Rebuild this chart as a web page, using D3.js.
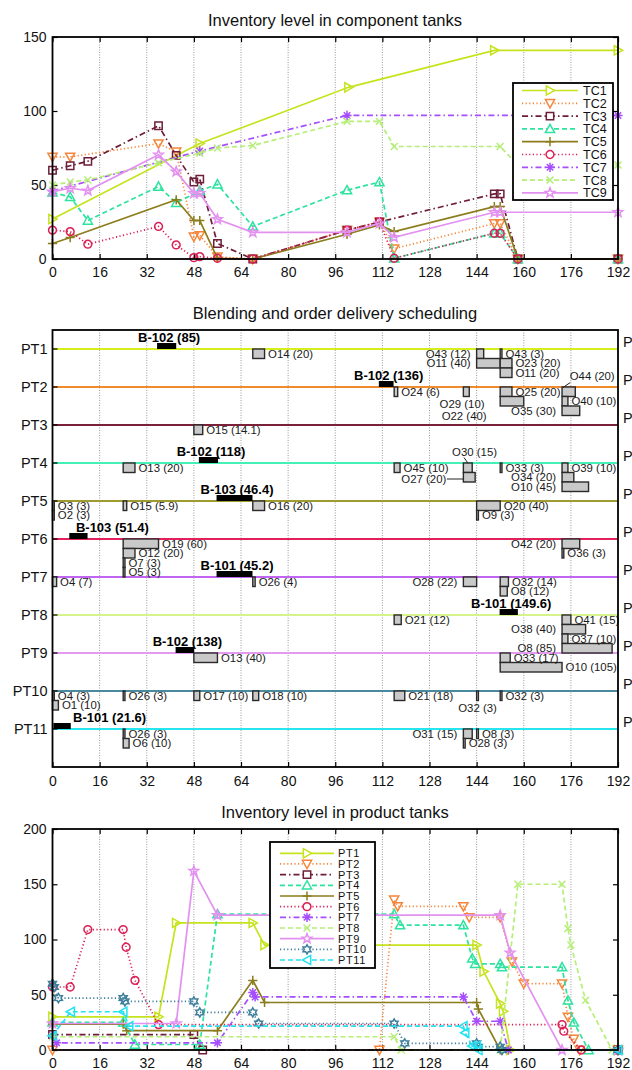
<!DOCTYPE html>
<html>
<head>
<meta charset="utf-8">
<script src="https://cdn.jsdelivr.net/npm/d3@7"></script>
<style>
  body { margin: 0; background: #fff; }
  svg { display: block; font-family: "Liberation Sans", Arial, sans-serif; }
</style>
</head>
<body>
<svg id="fig" width="632" height="1070"></svg>
<script>
// ---- data ----
const hourTicks = [0, 16, 32, 48, 64, 80, 96, 112, 128, 144, 160, 176, 192];
const tcTicks = [0, 50, 100, 150];
const ptTicks = [0, 50, 100, 150, 200];
const components = ["TC1", "TC2", "TC3", "TC4", "TC5", "TC6", "TC7", "TC8", "TC9"];
const products = ["PT1", "PT2", "PT3", "PT4", "PT5", "PT6", "PT7", "PT8", "PT9", "PT10", "PT11"];

// component tank levels [hour, level]
const TC1 = [[0,27],[50,78],[100.5,116],[150,141],[192,141]];
const TC2 = [[0,69],[6,69],[36,78],[42,72.5],[48,15],[50,16],[56,1.5],[68,0],[100,19.5],[111,25],[116,7],[150,24],[152,24],[158,0],[192,0]];
const TC3 = [[0,60],[6,63],[12,66],[36,90],[42,70],[48,52],[50,54],[56,10.5],[68,0],[100,19.5],[111,25],[150,44],[152,44],[158,0],[192,0]];
const TC4 = [[0,45],[6,42],[12,26],[36,49],[42,38],[50,46],[56,50.5],[68,22],[100,46.5],[111,52],[116,0.5],[150,17.4],[152,17.4],[158,0],[192,0]];
const TC5 = [[0,10.5],[6,14.5],[42,40],[48,26],[50,26],[56,0.5],[68,0],[100,16.7],[111,23],[116,18.5],[150,35.4],[152,35.4],[158,0],[192,0]];
const TC6 = [[0,19.5],[6,18.5],[12,10],[36,22],[42,9.5],[48,0.9],[50,1.6],[56,0.5],[68,0],[100,19.5],[111,25],[116,0.5],[150,17.4],[152,17.4],[158,0],[192,0]];
const TC7 = [[0,46],[50,73],[100,97],[192,97]];
const TC8 = [[0,50],[6,52],[12,53.4],[36,65],[50,71.5],[56,75],[68,76.7],[100,93],[111,93],[116,76],[152,76],[158,63.5],[192,63.5]];
const TC9 = [[0,45.5],[6,47.8],[12,46.2],[36,70.4],[42,59],[48,44.4],[50,44.4],[56,26.8],[68,18],[100,18],[111,24],[116,14.7],[150,31.6],[152,31.6],[192,31.6]];

// product tank levels [hour, level]
const PT1 = [[0,30],[36,30],[42,115],[68,115],[72,95],[144,95],[146.4,71],[152,42],[153,35],[155.5,0],[192,0]];
const PT2 = [[0,0],[111,0],[116,136],[117.2,130],[139.5,130],[141.5,120],[152,120],[156,80],[160,60],[173,60],[175,30],[177,10],[179,0],[192,0]];
const PT3 = [[0,14],[48,14],[51,0],[192,0]];
const PT4 = [[0,25],[24,25],[28,5],[50,5],[56,123],[116,123],[118,113],[139.5,113],[142.5,83],[143.5,78],[152,78],[152.6,75],[173,75],[175,45],[177,25],[182,0],[192,0]];
const PT5 = [[0,23.5],[24,23.5],[25.2,17.5],[56,17.5],[68,63],[72,43],[144,43],[144.6,37],[152,0],[192,0]];
const PT6 = [[0,57],[6,57],[12,109],[24,109],[25,93],[28,63],[36,23],[173,23],[173.6,17],[179.5,0],[192,0]];
const PT7 = [[0,13],[1.4,6.5],[56,6.5],[68,52],[68.8,48],[139.5,48],[144,26],[152,26],[154.8,0],[192,0]];
const PT8 = [[0,12],[116,12],[118.4,0],[152,0],[158,150],[173,150],[175,110],[176,95],[181,45],[190,0],[192,0]];
const PT9 = [[0,24],[42,24],[48,162],[56,122],[152,122],[155.4,88],[173,0],[192,0]];
const PT10 = [[0,60],[0.6,57],[2,47],[24,47],[24.6,44],[48,44],[50,34],[68,34],[70,24],[116,24],[119.6,6],[144,6],[144.6,3],[152,3],[152.6,0],[192,0]];
const PT11 = [[0,13],[6.2,34.6],[24,34.6],[26,21.6],[139.5,21.6],[140.1,15.6],[142.5,3.6],[144,3.6],[144.6,0],[192,0]];

// blending batches [product row, start, end, label]
const batches = [
  [1, 35.5, 42, "B-102 (85)"],
  [2, 110.8, 115.8, "B-102 (136)"],
  [4, 49.7, 56.2, "B-102 (118)"],
  [5, 55.7, 67.9, "B-103 (46.4)"],
  [6, 5.7, 11.9, "B-103 (51.4)"],
  [7, 55.7, 67.9, "B-101 (45.2)"],
  [8, 151.8, 158, "B-101 (149.6)"],
  [9, 41.8, 48.1, "B-102 (138)"],
  [11, 0.3, 6.2, "B-101 (21.6)"]
];

// order deliveries [product row, start, end, stack level, label]
const orders = [
  [1, 68, 72, 0, "O14 (20)"],
  [1, 144, 146.4, 0, "O43 (12)"],
  [1, 144, 152, 1, "O11 (40)"],
  [1, 152, 152.6, 0, "O43 (3)"],
  [1, 152, 156, 1, "O23 (20)"],
  [1, 152, 156, 2, "O11 (20)"],
  [2, 116, 117.2, 0, "O24 (6)"],
  [2, 139.5, 141.5, 0, "O29 (10)"],
  [2, 152, 156, 0, "O25 (20)"],
  [2, 152, 160, 1, "O22 (40)"],
  [2, 173, 177.5, 0, "O44 (20)"],
  [2, 173, 175, 1, "O40 (10)"],
  [2, 173, 179, 2, "O35 (30)"],
  [3, 48, 51, 0, "O15 (14.1)"],
  [4, 24, 28, 0, "O13 (20)"],
  [4, 116, 118, 0, "O45 (10)"],
  [4, 139.5, 142.5, 0, "O30 (15)"],
  [4, 139.5, 143.5, 1, "O27 (20)"],
  [4, 152, 152.6, 0, "O33 (3)"],
  [4, 173, 175, 0, "O39 (10)"],
  [4, 173, 177, 1, "O34 (20)"],
  [4, 173, 182, 2, "O10 (45)"],
  [5, 0, 0.6, 0, "O3 (3)"],
  [5, 0, 0.6, 1, "O2 (3)"],
  [5, 24, 25.2, 0, "O15 (5.9)"],
  [5, 68, 72, 0, "O16 (20)"],
  [5, 144, 152, 0, "O20 (40)"],
  [5, 144, 144.6, 1, "O9 (3)"],
  [6, 24, 36, 0, "O19 (60)"],
  [6, 24, 28, 1, "O12 (20)"],
  [6, 24, 24.6, 2, "O7 (3)"],
  [6, 24, 24.6, 3, "O5 (3)"],
  [6, 173, 179, 0, "O42 (20)"],
  [6, 173, 173.6, 1, "O36 (3)"],
  [7, 0, 1.4, 0, "O4 (7)"],
  [7, 68, 68.8, 0, "O26 (4)"],
  [7, 139.5, 144, 0, "O28 (22)"],
  [7, 152, 154.8, 0, "O32 (14)"],
  [7, 152, 154.4, 1, "O8 (12)"],
  [8, 116, 118.4, 0, "O21 (12)"],
  [8, 173, 176, 0, "O41 (15)"],
  [8, 173, 181, 1, "O38 (40)"],
  [8, 173, 175, 2, "O37 (10)"],
  [8, 173, 190, 3, "O8 (85)"],
  [9, 48, 56, 0, "O13 (40)"],
  [9, 152, 155.4, 0, "O33 (17)"],
  [9, 152, 173, 1, "O10 (105)"],
  [10, 0, 0.6, 0, "O4 (3)"],
  [10, 0, 2, 1, "O1 (10)"],
  [10, 24, 24.6, 0, "O26 (3)"],
  [10, 48, 50, 0, "O17 (10)"],
  [10, 68, 70, 0, "O18 (10)"],
  [10, 116, 119.6, 0, "O21 (18)"],
  [10, 144, 144.6, 0, "O32 (3)"],
  [10, 152, 152.6, 0, "O32 (3)"],
  [11, 24, 24.6, 0, "O26 (3)"],
  [11, 24, 26, 1, "O6 (10)"],
  [11, 139.5, 142.5, 0, "O31 (15)"],
  [11, 139.5, 140.1, 1, "O28 (3)"],
  [11, 144, 144.6, 0, "O8 (3)"]
];

// ---- styles / label placement ----
const seriesStyle = [
  { color: "#c6e31e", dash: null, marker: "triR" },
  { color: "#f5863a", dash: "1.2,2.4", marker: "triD" },
  { color: "#6e1e38", dash: "6,3,1.5,3", marker: "square" },
  { color: "#2ee3a0", dash: "5,3", marker: "triU" },
  { color: "#8c7d1c", dash: null, marker: "plus" },
  { color: "#dc1f55", dash: "1.2,2.4", marker: "circle" },
  { color: "#a64dff", dash: "6,3,1.5,3", marker: "aster" },
  { color: "#b6ee78", dash: "5,3", marker: "cross" },
  { color: "#e391f0", dash: null, marker: "penta" },
  { color: "#3e7f9c", dash: "1.2,2.4", marker: "hexa" },
  { color: "#22e3f0", dash: "5,3", marker: "triL" }
];
const rowColors = ["#d6ef1c", "#f08a2a", "#7a2038", "#45f0b8", "#a09b2e", "#e2205c",
                   "#c064f2", "#d6f28a", "#e59af2", "#4a8a9e", "#25e5ee"];

const leftLabels = ["1:O43 (12)", "1:O11 (40)", "2:O35 (30)", "4:O34 (20)", "4:O10 (45)",
                    "6:O42 (20)", "7:O28 (22)", "8:O38 (40)", "8:O8 (85)", "11:O31 (15)"];
// special placements: x in hours, dy in px from the row line (text centre)
const freeLabels = {
  "2:O29 (10)": { x: 146.7, dy: 16.5, anchor: "end" },
  "2:O22 (40)": { x: 147.4, dy: 29, anchor: "end" },
  "2:O44 (20)": { x: 175.6, dy: -11.5, anchor: "start", leader: [[175.8, -4.5], [173.3, 0.5]] },
  "4:O30 (15)": { x: 143.3, dy: -11.5, anchor: "middle", leader: [[139.7, -5.5], [141.1, 0.3]] },
  "4:O27 (20)": { x: 133.7, dy: 16, anchor: "end", leader: [[133.9, 16], [139.5, 16]] },
  "10:O32 (3)@144": { x: 144.3, dy: 16.5, anchor: "middle" }
};
const batchLabelShift = { "B-103 (51.4)": 31.5, "B-101 (21.6)": 45 };

// ---- layout ----
const svg = d3.select("#fig");
const x = d3.scaleLinear().domain([0, 192]).range([52.5, 618]);
const yTop = d3.scaleLinear().domain([0, 150]).range([259, 37]);
const yMid = d3.scaleLinear().domain([0.5, 12]).range([330, 767]);
const yBot = d3.scaleLinear().domain([0, 200]).range([1050, 829]);
const levelH = (yMid(2) - yMid(1)) / 4;

function markerPath(type, r) {
  const star = (n, ro, ri) => {
    let p = "";
    for (let i = 0; i < 2 * n; i++) {
      const a = -Math.PI / 2 + i * Math.PI / n;
      const rr = i % 2 ? ri : ro;
      p += (i ? "L" : "M") + (rr * Math.cos(a)).toFixed(2) + "," + (rr * Math.sin(a)).toFixed(2);
    }
    return p + "Z";
  };
  switch (type) {
    case "triR": return `M${-r * 0.8},${-r}L${r},0L${-r * 0.8},${r}Z`;
    case "triL": return `M${r * 0.8},${-r}L${-r},0L${r * 0.8},${r}Z`;
    case "triU": return `M0,${-r}L${r},${r * 0.8}L${-r},${r * 0.8}Z`;
    case "triD": return `M0,${r}L${r},${-r * 0.8}L${-r},${-r * 0.8}Z`;
    case "square": return `M${-r * 0.8},${-r * 0.8}H${r * 0.8}V${r * 0.8}H${-r * 0.8}Z`;
    case "circle": return `M${r * 0.85},0A${r * 0.85},${r * 0.85} 0 1,1 ${-r * 0.85},0A${r * 0.85},${r * 0.85} 0 1,1 ${r * 0.85},0Z`;
    case "plus": return `M${-r},0H${r}M0,${-r}V${r}`;
    case "cross": return `M${-r * 0.75},${-r * 0.75}L${r * 0.75},${r * 0.75}M${-r * 0.75},${r * 0.75}L${r * 0.75},${-r * 0.75}`;
    case "aster": return `M${-r},0H${r}M0,${-r}V${r}M${-r * 0.7},${-r * 0.7}L${r * 0.7},${r * 0.7}M${-r * 0.7},${r * 0.7}L${r * 0.7},${-r * 0.7}`;
    case "penta": return star(5, r * 1.1, r * 0.45);
    case "hexa": return star(6, r, r * 0.58);
  }
}

function title(text, yBase) {
  svg.append("text").attr("x", 335).attr("y", yBase).attr("text-anchor", "middle")
    .attr("font-size", 16.5).attr("fill", "#111").text(text);
}

function grid(y0, y1) {
  svg.append("g").selectAll("line").data(hourTicks.slice(1, -1)).join("line")
    .attr("x1", d => x(d)).attr("x2", d => x(d)).attr("y1", y0).attr("y2", y1)
    .attr("stroke", "#9a9a9a").attr("stroke-width", 1).attr("stroke-dasharray", "1,1.5");
}

function frame(y0, y1) {
  svg.append("rect").attr("x", x(0)).attr("y", y0).attr("width", x(192) - x(0)).attr("height", y1 - y0)
    .attr("fill", "none").attr("stroke", "#000").attr("stroke-width", 1.8);
}

function styleAxis(g, size) {
  g.select(".domain").remove();
  g.selectAll(".tick line").attr("stroke", "#000").attr("stroke-width", 1.2);
  g.selectAll("text").attr("font-size", size).attr("fill", "#111").attr("font-family", "Liberation Sans, Arial, sans-serif");
}

function lineChart(y, yTicks, series, names, legend) {
  const [y1, y0] = y.range();
  grid(y0, y1);
  styleAxis(svg.append("g").attr("transform", `translate(0,${y1})`)
    .call(d3.axisBottom(x).tickValues(hourTicks).tickSize(-5).tickPadding(8.5)), 14);
  styleAxis(svg.append("g").attr("transform", `translate(0,${y0})`)
    .call(d3.axisTop(x).tickValues(hourTicks).tickSize(-5).tickFormat("")), 14);
  styleAxis(svg.append("g").attr("transform", `translate(${x(0)},0)`)
    .call(d3.axisLeft(y).tickValues(yTicks).tickSize(-5).tickPadding(6)), 14);
  styleAxis(svg.append("g").attr("transform", `translate(${x(192)},0)`)
    .call(d3.axisRight(y).tickValues(yTicks).tickSize(-5).tickFormat("")), 14);

  const line = d3.line().x(d => x(d[0])).y(d => y(d[1]));
  series.forEach((data, i) => {
    const st = seriesStyle[i];
    const g = svg.append("g");
    g.append("path").attr("d", line(data)).attr("fill", "none").attr("stroke", st.color)
      .attr("stroke-width", 1.7).attr("stroke-dasharray", st.dash);
    g.selectAll(".m").data(data).join("path").attr("class", "m")
      .attr("transform", d => `translate(${x(d[0])},${y(d[1])})`)
      .attr("d", markerPath(st.marker, 4.6)).attr("fill", "none")
      .attr("stroke", st.color).attr("stroke-width", 1.5);
  });
  frame(y0, y1);

  // legend
  const lg = svg.append("g");
  lg.append("rect").attr("x", legend.x0).attr("y", legend.y0).attr("width", legend.x1 - legend.x0)
    .attr("height", legend.y1 - legend.y0).attr("fill", "#fff").attr("stroke", "#000").attr("stroke-width", 1.8);
  names.forEach((n, i) => {
    const st = seriesStyle[i];
    const ry = legend.first + i * legend.step;
    lg.append("line").attr("x1", legend.lx0).attr("x2", legend.lx1).attr("y1", ry).attr("y2", ry)
      .attr("stroke", st.color).attr("stroke-width", 1.7).attr("stroke-dasharray", st.dash);
    lg.append("path").attr("transform", `translate(${(legend.lx0 + legend.lx1) / 2},${ry})`)
      .attr("d", markerPath(st.marker, 4.6)).attr("fill", "#fff").attr("stroke", st.color).attr("stroke-width", 1.5);
    lg.append("text").attr("x", legend.tx).attr("y", ry + legend.fs * 0.36).attr("font-size", legend.fs)
      .attr("letter-spacing", legend.ls).attr("fill", "#111").text(n);
  });
}

// ---- top: component tanks ----
title("Inventory level in component tanks", 26);
lineChart(yTop, tcTicks, [TC1, TC2, TC3, TC4, TC5, TC6, TC7, TC8, TC9], components,
  { x0: 513, x1: 613, y0: 83, y1: 200, first: 90.5, step: 12.8, lx0: 522, lx1: 578, tx: 583, fs: 12.5, ls: 0 });

// ---- middle: schedule ----
title("Blending and order delivery scheduling", 319);
const my0 = yMid.range()[0], my1 = yMid.range()[1];
grid(my0, my1);
styleAxis(svg.append("g").attr("transform", `translate(0,${my1})`)
  .call(d3.axisBottom(x).tickValues(hourTicks).tickSize(-5).tickPadding(9.5)), 14);

products.forEach((p, i) => {
  const ry = yMid(i + 1);
  svg.append("line").attr("x1", x(0)).attr("x2", x(192)).attr("y1", ry).attr("y2", ry)
    .attr("stroke", rowColors[i]).attr("stroke-width", 2);
  svg.append("line").attr("x1", x(0)).attr("x2", x(0) + 5).attr("y1", ry).attr("y2", ry)
    .attr("stroke", "#000").attr("stroke-width", 1.2);
  svg.append("text").attr("x", 47.5).attr("y", ry + 5).attr("text-anchor", "end")
    .attr("font-size", 14.5).attr("fill", "#111").text(p);
  svg.append("text").attr("x", 623).attr("y", ry - 2.3)
    .attr("font-size", 14.5).attr("fill", "#111").text(p);
});

const og = svg.append("g");
orders.forEach(o => {
  const [row, s, e, lv] = o;
  const ry = yMid(row);
  og.append("rect").attr("x", x(s)).attr("y", ry + lv * levelH)
    .attr("width", Math.max(x(e) - x(s), 1)).attr("height", levelH)
    .attr("fill", "#c9c9c9").attr("stroke", "#2a2a2a").attr("stroke-width", 1.4);
});
orders.forEach(o => {
  const [row, s, e, lv, label] = o;
  const ry = yMid(row);
  const key = row + ":" + label;
  const atKey = key + "@" + s;
  const f = freeLabels[atKey] || (row !== 10 ? freeLabels[key] : null);
  const cy = ry + (lv + 0.5) * levelH;
  const t = og.append("text").attr("font-size", 11.4).attr("fill", "#1a1a1a").text(label);
  if (f) {
    t.attr("x", x(f.x)).attr("y", ry + f.dy + 4).attr("text-anchor", f.anchor);
    if (f.leader) {
      og.append("line").attr("x1", x(f.leader[0][0])).attr("y1", ry + f.leader[0][1])
        .attr("x2", x(f.leader[1][0])).attr("y2", ry + f.leader[1][1])
        .attr("stroke", "#222").attr("stroke-width", 1);
    }
  } else if (leftLabels.includes(key)) {
    t.attr("x", x(s) - 6).attr("y", cy + 4).attr("text-anchor", "end");
  } else {
    t.attr("x", x(e) + 3.5).attr("y", cy + 4);
  }
});

const bg = svg.append("g");
batches.forEach(b => {
  const [row, s, e, label] = b;
  const ry = yMid(row);
  bg.append("rect").attr("x", x(s)).attr("y", ry - 6).attr("width", x(e) - x(s)).attr("height", 6)
    .attr("fill", "#000");
  const cx = (x(s) + x(e)) / 2 + 2.5 + (batchLabelShift[label] || 0);
  bg.append("text").attr("x", cx).attr("y", ry - 7.5).attr("text-anchor", "middle")
    .attr("font-size", 13).attr("font-weight", "bold").attr("fill", "#000").text(label);
});
frame(my0, my1);

// ---- bottom: product tanks ----
title("Inventory level in product tanks", 818);
lineChart(yBot, ptTicks, [PT1, PT2, PT3, PT4, PT5, PT6, PT7, PT8, PT9, PT10, PT11], products,
  { x0: 270, x1: 375, y0: 842, y1: 968, first: 853.3, step: 10.67, lx0: 280, lx1: 334, tx: 338, fs: 11, ls: 0.6 });
</script>
</body>
</html>
